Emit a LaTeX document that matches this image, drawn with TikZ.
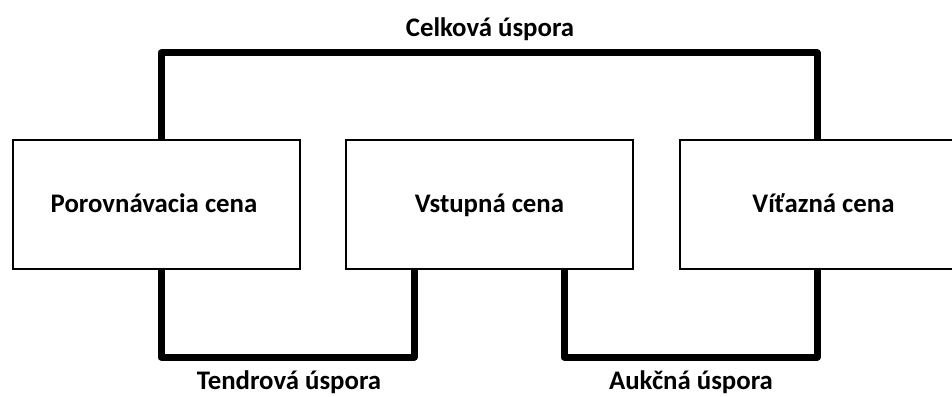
\documentclass[tikz,border=0pt]{standalone}
\usepackage{fontspec}
\setmainfont{Carlito}
\begin{document}
\begin{tikzpicture}[x=1pt,y=-1pt,
  labelfont/.style={font=\fontsize{26.8}{31}\selectfont\bfseries, inner sep=0pt},
  pricebox/.style={draw=black, line width=2.4pt, fill=white, minimum width=287pt,
    minimum height=129pt, inner sep=0pt},
  saving/.style={draw=black, line width=7pt, line join=round},
  boxtext/.style={labelfont, anchor=base},
  savlabel/.style={labelfont, anchor=base}]
  \useasboundingbox (0,0) rectangle (952,396);
  \begin{scope}
    \clip (0,0) rectangle (952,396);
    % bracket anchor points
    \coordinate (t1) at (161,53);
    \coordinate (t2) at (817,53);
    \coordinate (b1) at (161,357);
    \coordinate (b2) at (414,357);
    \coordinate (b3) at (564,357);
    \coordinate (b4) at (817,357);
    % price boxes
    \node[pricebox] (p) at (156.5,204.5) {};
    \node[pricebox] (v) at (489.5,204.5) {};
    \node[pricebox] (w) at (823.5,204.5) {};
    % savings brackets
    \draw[saving] (t1 |- p.north) -- (t1) -- (t2) -- (t2 |- w.north);
    \draw[saving] (b1 |- p.south) -- (b1) -- (b2) -- (b2 |- v.south);
    \draw[saving] (b3 |- v.south) -- (b3) -- (b4) -- (b4 |- w.south);
    % redraw boxes over the bracket ends
    \node[pricebox] at (p) {};
    \node[pricebox] at (v) {};
    \node[pricebox] at (w) {};
    \node[boxtext] (pt) at (154,212) {Porovnávacia cena};
    \node[boxtext] (vt) at (489.5,212) {Vstupná cena};
    \node[boxtext] (wt) at (823.5,212) {Víťazná cena};
  \end{scope}
  \node[savlabel] (celk) at (490,37) {Celková úspora};
  \node[savlabel] (tend) at (289,389) {Tendrová úspora};
  \node[savlabel] (auk) at (691,389) {Aukčná úspora};
\end{tikzpicture}
\end{document}
